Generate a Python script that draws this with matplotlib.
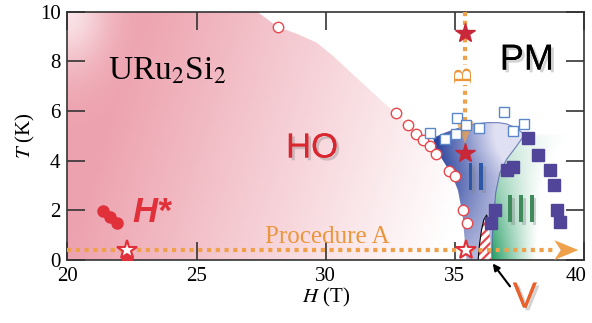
import matplotlib
matplotlib.use('Agg')
import matplotlib.pyplot as plt
import numpy as np
from matplotlib.patches import Polygon
import matplotlib.patheffects as pe
import matplotlib.transforms as mtransforms

plt.rcParams['font.family'] = ['Liberation Serif', 'DejaVu Serif']
plt.rcParams['mathtext.fontset'] = 'stix'
plt.rcParams['hatch.linewidth'] = 1.6

# --- data ---
# hidden order boundary (open red circles)
ho_H = [28.15, 32.72, 33.18, 33.49, 33.76, 34.03, 34.27, 34.77, 35.0, 35.31, 35.47]
ho_T = [9.38, 5.92, 5.44, 5.07, 4.83, 4.59, 4.27, 3.58, 3.38, 2.01, 1.49]
# H* points (filled red circles)
hs_H = [21.39, 21.65, 21.90, 22.29]
hs_T = [1.99, 1.74, 1.48, 0.12]
# phase II upper boundary (open blue squares)
sq_H = [34.03, 34.61, 35.04, 35.07, 35.45, 35.94, 36.90, 37.24, 37.67]
sq_T = [5.10, 4.86, 5.07, 5.71, 5.44, 5.30, 5.97, 5.21, 5.48]
# phase III boundary (filled purple squares)
fq_H = [37.84, 38.23, 38.68, 38.83, 38.94, 39.07, 37.00, 37.26, 36.55, 36.38]
fq_T = [4.90, 4.23, 3.62, 3.02, 2.01, 1.54, 3.62, 3.76, 2.01, 1.50]
# stars
st_H = [35.39, 35.39]
st_T = [9.13, 4.30]
ost_H = [22.29, 35.45]
ost_T = [0.40, 0.40]

# phase region outlines
ho_edge_H = [20, 20, 27.34, 28.15, 28.9, 29.65, 30.3, 30.94, 31.6, 32.21, 32.72, 33.18,
             33.49, 33.76, 34.03, 34.27, 34.77, 35.0, 35.3, 35.38, 35.45]
ho_edge_T = [0, 10, 10, 9.38, 9.1, 8.75, 8.2, 7.58, 6.95, 6.36, 5.92, 5.44,
             5.07, 4.83, 4.59, 4.27, 3.58, 3.38, 1.8, 0.8, 0]
ii_top_H = [34.16, 34.6, 35.07, 35.6, 36.23, 36.7, 37.0, 37.35, 37.7]
ii_top_T = [4.90, 5.1, 5.28, 5.45, 5.53, 5.53, 5.48, 5.33, 5.05]
ii_right_H = [37.7, 37.4, 37.0, 36.74, 36.58, 36.51, 36.45, 36.42]
ii_right_T = [5.05, 4.6, 4.05, 3.5, 2.7, 1.8, 1.0, 0]
ii_left_H = [35.45, 35.38, 35.3, 35.12, 34.9, 34.6, 34.3]
ii_left_T = [0, 0.8, 1.8, 2.8, 3.4, 3.9, 4.4]
v_H = [35.9, 35.95, 36.03, 36.12, 36.23, 36.3, 36.36, 36.42]
v_T = [0, 0.6, 1.2, 1.62, 1.81, 1.5, 0.9, 0]

orange = '#EFA04A'

fig = plt.figure(figsize=(5.92, 3.23), dpi=100)
ax = fig.add_axes([0.114, 0.195, 0.8725, 0.769])
ax.set_xlim(20, 40)
ax.set_ylim(0, 10)

# grid for gradients
gH, gT = np.meshgrid(np.linspace(20, 40, 500), np.linspace(0, 10, 250))

# HO pink
s = np.clip(1 - (gH - 20) / 14.5 + 0.02 * gT, 0, 1)
corner = np.exp(-(((gH - 20) / 1.1) ** 2 + ((gT - 10) / 1.6) ** 2) / 2)
s = s * (1 - 0.7 * corner)
pink = np.array([237, 163, 175]) / 255
img = np.ones(gH.shape + (3,)) - s[..., None] * (1 - pink)
patch = Polygon(np.column_stack([ho_edge_H, ho_edge_T]), closed=True, fc='none', ec='none')
ax.add_patch(patch)
im = ax.imshow(img, extent=[20, 40, 0, 10], origin='lower', aspect='auto', zorder=0)
im.set_clip_path(patch)

# phase II blue
ii_poly = np.column_stack([ii_top_H + ii_right_H[1:] + ii_left_H,
                           ii_top_T + ii_right_T[1:] + ii_left_T])
lb = np.interp(gT, ii_left_T + [4.9], ii_left_H + [34.16])
b = np.clip(1 - (gH - lb) / 2.4, 0, 1) * (0.25 + 0.75 * np.clip(gT / 4.8, 0, 1))
light = np.array([224, 224, 243]) / 255
dark = np.array([32, 58, 152]) / 255
img2 = light * (1 - b[..., None]) + dark * b[..., None]
patch2 = Polygon(ii_poly, closed=True, fc='none', ec='none')
ax.add_patch(patch2)
im2 = ax.imshow(img2, extent=[20, 40, 0, 10], origin='lower', aspect='auto', zorder=1)
im2.set_clip_path(patch2)

# phase III green
rb = np.interp(gT, ii_right_T[::-1], ii_right_H[::-1])
g = np.clip(1 - (gH - rb) / 1.8, 0, 1) ** 1.2 * np.clip(1 - gT / 5.5, 0, 1)
green = np.array([30, 155, 95]) / 255
img3 = 1 - g[..., None] * (1 - green)
iii_poly = np.column_stack([ii_right_H + [40, 40], ii_right_T + [0, 5.05]])
patch3 = Polygon(iii_poly, closed=True, fc='none', ec='none')
ax.add_patch(patch3)
im3 = ax.imshow(img3, extent=[20, 40, 0, 10], origin='lower', aspect='auto', zorder=1)
im3.set_clip_path(patch3)

ax.plot(ii_top_H, ii_top_T, color='#3C50A0', lw=0.8, alpha=0.7, zorder=2)
ax.plot(ii_right_H, ii_right_T, color='#3C50A0', lw=0.8, alpha=0.7, zorder=2)

# phase V hatched
ax.add_patch(Polygon(np.column_stack([v_H, v_T]), closed=True, fc='white',
                     ec='#E8474C', hatch='////', lw=0, zorder=2))
ax.plot(v_H[:6], v_T[:6], color='k', lw=0.8, zorder=2)

# procedure A / B
ax.plot([20, 38.9], [0.4, 0.4], color=orange, lw=3, ls=(0, (1, 1.1)),
        dash_capstyle='butt', zorder=3)
ax.add_patch(Polygon([[38.85, 0.8], [39.78, 0.4], [38.85, 0.0], [39.1, 0.4]],
                     closed=True, fc=orange, ec='none', zorder=3))
ax.plot([35.39, 35.39], [10, 5.6], color=orange, lw=3, ls=(0, (1, 1.1)),
        dash_capstyle='butt', zorder=3)
ax.add_patch(Polygon([[35.04, 5.6], [35.39, 4.7], [35.74, 5.6], [35.39, 5.4]],
                     closed=True, fc=orange, ec='none', alpha=0.75, zorder=3))

# markers
ax.plot(ho_H, ho_T, 'o', ms=7.5, mfc='white', mec='#E8474C', mew=1.0, ls='none', zorder=4)
ax.plot(sq_H, sq_T, 's', ms=7.5, mfc='white', mec='#5B87C8', mew=1.0, ls='none', zorder=4)
ax.plot(fq_H, fq_T, 's', ms=8, color='#51459A', ls='none', zorder=4)
ax.plot(hs_H, hs_T, 'o', ms=8, color='#E0303A', ls='none', zorder=4)
ax.plot(st_H, st_T, '*', ms=15, color='#C8283A', ls='none', zorder=5)
ax.plot(ost_H, ost_T, '*', ms=15, mfc='white', mec='#E0303A', mew=1.5, ls='none', zorder=5)

# labels
shadow = [pe.withSimplePatchShadow(offset=(2, -2), shadow_rgbFace='gray', alpha=0.35), pe.Normal()]
sans = ['Liberation Sans', 'DejaVu Sans']
ax.text(21.57, 7.25, 'URu$_2$Si$_2$', fontsize=24, va='baseline', ha='left', zorder=6)
ax.text(37.79, 8.05, 'PM', fontsize=26, family=sans, ha='center', va='center',
        path_effects=shadow, zorder=6)
ax.text(29.47, 4.51, 'HO', fontsize=25, family=sans, color='#D9262F', ha='center',
        va='center', path_effects=shadow, zorder=6)
ax.text(35.81, 3.22, 'II', fontsize=28, family=sans, color='#2D57A5', ha='center',
        va='center', path_effects=shadow, zorder=6)
ax.text(37.56, 1.93, 'III', fontsize=28, family=sans, color='#3E8A5A', ha='center',
        va='center', path_effects=shadow, zorder=6)
ax.text(23.27, 1.93, 'H*', fontsize=25, family=sans, color='#E0303A', weight='bold',
        style='italic', ha='center', va='center', zorder=6)
ax.text(30.05, 0.93, 'Procedure A', fontsize=18, color='#EB963C', ha='center',
        va='center', zorder=6)
ax.text(35.39, 7.45, 'B', fontsize=18, color='#EB963C', ha='center', va='center',
        rotation=90, bbox=dict(fc='white', ec='none', pad=1), zorder=6)
ax.text(37.71, -1.53, 'V', fontsize=26, family=sans, color='#E8602C', ha='center',
        va='center', path_effects=shadow, clip_on=False, zorder=6)
ax.annotate('', xy=(36.4, -0.05), xytext=(37.2, -1.15), annotation_clip=False,
            arrowprops=dict(arrowstyle='-|>', color='k', lw=1.5, mutation_scale=10))

ax.set_xticks([20, 25, 30, 35, 40])
ax.set_yticks([0, 2, 4, 6, 8, 10])
ax.tick_params(direction='in', length=13, width=1.2, labelsize=15, top=True,
               right=True, color='#333333', pad=5)
for sp in ax.spines.values():
    sp.set_linewidth(1.2)
    sp.set_color('#333333')
ax.set_xlabel('$H$ (T)', fontsize=15, labelpad=0)
ax.set_ylabel('$T$ (K)', fontsize=15, labelpad=2)

# keep the last x tick label inside the figure
last = ax.get_xticklabels()[-1]
last.set_transform(last.get_transform() + mtransforms.ScaledTranslation(-0.08, 0, fig.dpi_scale_trans))

fig.savefig('out.png', dpi=100)
